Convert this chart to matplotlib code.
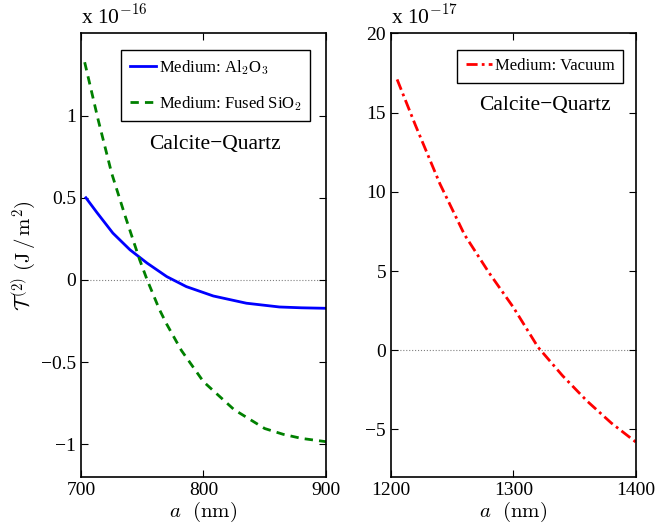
"""Casimir torque T^(2) vs separation: Calcite-Quartz in three media."""
import matplotlib
matplotlib.use('Agg')
import matplotlib.pyplot as plt

plt.rcParams['font.family'] = ['Liberation Serif', 'DejaVu Serif']
plt.rcParams['mathtext.fontset'] = 'cm'

# --- data (torque in units of the axis multiplier) ---
a_al2o3 = [704, 713, 726, 740, 754, 770, 786, 808, 835, 862, 880, 900]
t_al2o3 = [0.50, 0.41, 0.285, 0.183, 0.102, 0.02, -0.041, -0.098, -0.142, -0.165, -0.170, -0.173]

a_sio2 = [703, 714, 725, 736, 748, 754, 764, 770, 782, 800, 825, 850, 865, 880, 900]
t_sio2 = [1.325, 0.975, 0.65, 0.39, 0.12, 0.0, -0.18, -0.27, -0.43, -0.62, -0.79, -0.905, -0.94, -0.965, -0.985]

a_vac = [1205, 1220, 1240, 1260, 1280, 1300, 1320, 1340, 1360, 1380, 1400]
t_vac = [17.1, 14.2, 10.5, 7.3, 4.9, 2.7, 0.2, -1.6, -3.2, -4.6, -5.8]

left_xticks = [700, 800, 900]
left_yticks = [-1, -0.5, 0, 0.5, 1]
right_xticks = [1200, 1300, 1400]
right_yticks = [-5, 0, 5, 10, 15, 20]


def style(ax):
    ax.tick_params(direction='in', top=True, right=True, length=5, width=0.8, labelsize=14)
    for s in ax.spines.values():
        s.set_linewidth(1.2)
    ax.axhline(0, color='gray', ls=':', lw=0.8, zorder=0)


def fmt(v):
    s = f'{v:g}'
    return s.replace('-', '\u2212')


leg_kw = dict(fontsize=12, handlelength=1.6, handletextpad=0.15, fancybox=False,
              edgecolor='black', framealpha=1, borderpad=0.5, labelspacing=1.0,
              borderaxespad=0)

fig = plt.figure(figsize=(6.58, 5.24), dpi=100)
ax1 = fig.add_axes([0.1231, 0.0897, 0.3723, 0.8464])
ax2 = fig.add_axes([0.5942, 0.0897, 0.3723, 0.8464])

# --- left panel ---
style(ax1)
ax1.plot(a_al2o3, t_al2o3, color='#0000ff', lw=2.0, label=r'Medium: Al$_2$O$_3$')
ax1.plot(a_sio2, t_sio2, color='#008000', lw=2.0, ls=(0, (3, 2.2)), label=r'Medium: Fused SiO$_2$')
ax1.set_xlim(700, 900)
ax1.set_ylim(-1.2, 1.5)
ax1.set_xticks(left_xticks)
ax1.set_yticks(left_yticks)
ax1.set_yticklabels([fmt(v) for v in left_yticks])
ax1.set_xlabel(r'$a\ \ (\mathrm{nm})$', fontsize=15, labelpad=1)
ax1.set_ylabel(r'$\mathcal{T}^{\,(2)}\ (\mathrm{J}\,/\,\mathrm{m}^2)$', fontsize=15, labelpad=2)
leg = ax1.legend(loc='upper right', bbox_to_anchor=(0.935, 0.963), **leg_kw)
leg.get_frame().set_linewidth(1.0)
ax1.text(0.548, 0.749, 'Calcite\u2212Quartz', transform=ax1.transAxes, fontsize=15.5,
         ha='center', va='center')
ax1.text(0.0, 1.012, r'x 10$^{-16}$', transform=ax1.transAxes, fontsize=15.5,
         ha='left', va='bottom')

# --- right panel ---
style(ax2)
ax2.plot(a_vac, t_vac, color='#ff0000', lw=2.0, ls=(0, (4, 1.5, 1, 1.5)), label='Medium: Vacuum')
ax2.set_xlim(1200, 1400)
ax2.set_ylim(-8, 20)
ax2.set_xticks(right_xticks)
ax2.set_yticks(right_yticks)
ax2.set_yticklabels([fmt(v) for v in right_yticks])
ax2.set_xlabel(r'$a\ \ (\mathrm{nm})$', fontsize=15, labelpad=1)
leg2 = ax2.legend(loc='upper right', bbox_to_anchor=(0.947, 0.963), **leg_kw)
leg2.get_frame().set_linewidth(1.0)
ax2.text(0.63, 0.837, 'Calcite\u2212Quartz', transform=ax2.transAxes, fontsize=15.5,
         ha='center', va='center')
ax2.text(0.0, 1.012, r'x 10$^{-17}$', transform=ax2.transAxes, fontsize=15.5,
         ha='left', va='bottom')

fig.savefig('out.png', dpi=100)
